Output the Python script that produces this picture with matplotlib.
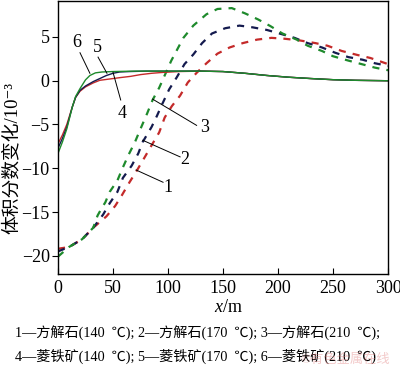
import matplotlib.pyplot as plt

plt.rcParams['font.family'] = ['Liberation Serif', 'Noto Sans CJK SC', 'DejaVu Serif']
plt.rcParams['mathtext.fontset'] = 'custom'
plt.rcParams['mathtext.rm'] = 'Liberation Serif'
plt.rcParams['mathtext.it'] = 'Liberation Serif:italic'

# dashed curves (calcite)
x1 = [0, 10, 22, 32, 44, 52, 58, 65, 72, 79, 85, 92, 97, 103.5, 111, 118, 126, 135, 145,
      156, 168, 181, 194, 206, 220, 234, 245, 258, 272, 284, 300]
y1 = [-19.2, -19.0, -18.1, -16.8, -15.5, -14.3, -13.1, -11.6, -10.2, -8.7, -7.4, -5.9, -4.2,
      -2.9, -1.7, -0.2, 0.9, 2.0, 3.1, 3.8, 4.3, 4.7, 4.9, 4.8, 4.6, 4.3, 4.0, 3.4, 2.95, 2.6, 1.9]

x2 = [0, 10, 22, 32, 41, 47, 54, 59, 67, 73, 77, 85, 90, 95, 101, 108, 115, 123, 131, 140,
      152, 165, 177, 190, 204, 215, 227, 240, 252, 264, 277, 288, 300]
y2 = [-19.5, -19.0, -18.1, -16.8, -15.3, -14.0, -12.7, -11.1, -9.7, -8.3, -7.0, -5.3, -4.0,
      -2.6, -1.0, 0.4, 1.9, 3.0, 4.3, 5.4, 6.0, 6.3, 6.1, 5.8, 5.3, 4.9, 4.3, 3.8, 3.2, 2.7,
      2.4, 2.0, 1.7]

x3 = [0, 10, 22, 32, 36, 40, 43, 47, 54, 59, 64, 70, 75, 81, 86, 92, 103, 114, 123, 135,
      145, 158, 170, 182, 193, 204, 217, 227, 240, 250, 264, 276, 288, 300]
y3 = [-20.1, -19.0, -18.1, -16.8, -15.4, -14.5, -13.9, -12.7, -11.4, -9.9, -8.5, -7.0, -5.5,
      -3.75, -2.2, -0.8, 2.3, 4.9, 6.3, 7.6, 8.2, 8.3, 7.7, 7.0, 6.25, 5.4, 4.7, 4.0, 3.4,
      2.8, 2.3, 1.9, 1.5, 1.2]

# solid curves (siderite)
x4 = [0, 4, 8, 13, 16, 20, 25, 32, 38, 47, 56, 66, 75, 85, 95, 110, 130, 150, 170, 190,
      210, 230, 250, 270, 300]
y4 = [-7.2, -6.2, -5.0, -3.0, -1.9, -1.2, -0.7, -0.25, 0.05, 0.2, 0.35, 0.5, 0.7, 0.85,
      0.95, 1.05, 1.1, 1.05, 0.85, 0.6, 0.4, 0.25, 0.12, 0.05, 0.0]

x5 = [0, 4, 8, 13, 16, 20, 25, 32, 38, 44, 50, 56, 65, 80, 110, 130, 150, 170, 190, 210,
      230, 250, 270, 300]
y5 = [-7.7, -6.6, -5.3, -3.0, -1.9, -1.1, -0.6, -0.1, 0.25, 0.6, 0.85, 1.0, 1.05, 1.1,
      1.1, 1.1, 1.05, 0.85, 0.6, 0.4, 0.25, 0.12, 0.05, 0.0]

x6 = [0, 4, 8, 13, 16, 20, 25, 29, 34, 40, 50, 70, 110, 130, 150, 170, 190, 210, 230, 250,
      270, 300]
y6 = [-8.3, -7.0, -5.5, -3.0, -1.8, -0.9, 0.1, 0.6, 0.9, 1.0, 1.05, 1.1, 1.1, 1.1, 1.05,
      0.85, 0.6, 0.4, 0.25, 0.12, 0.05, 0.0]

red = '#c42a2a'
navy = '#141a4e'
green = '#1e8a2c'

fig = plt.figure(figsize=(4, 3.67), dpi=100)
ax = fig.add_axes([0.145, 0.253, 0.825, 0.744])

dash = (0, (3.2, 3.2))
ax.plot(x1, y1, color=red, lw=1.6, ls=dash)
ax.plot(x2, y2, color=navy, lw=1.6, ls=dash)
ax.plot(x3, y3, color=green, lw=1.6, ls=dash)
ax.plot(x4, y4, color=red, lw=1.0)
ax.plot(x5, y5, color=navy, lw=1.0)
ax.plot(x6, y6, color=green, lw=1.0)

# curve numbers with leader lines
labels = [("1", (71, -10.2), (95.5, -11.6), (100, -12.2)),
          ("2", (77, -6.8), (111, -8.7), (115.5, -9.0)),
          ("3", (86, -2.1), (126, -5.1), (133, -5.3)),
          ("4", (50, 0.97), (57, -2.2), (58, -3.7)),
          ("5", (44.5, 0.85), (36.4, 2.7), (35.5, 3.8)),
          ("6", (29, 0.85), (20, 3.2), (17.3, 4.4))]
for t, a, b, q in labels:
    ax.plot([a[0], b[0]], [a[1], b[1]], color='black', lw=0.7)
    ax.text(q[0], q[1], t, fontsize=13, ha='center', va='center')

ax.set_xlim(0, 300)
ax.set_ylim(-22.1, 9.1)
ax.set_xticks([0, 50, 100, 150, 200, 250, 300])
ax.set_yticks([-20, -15, -10, -5, 0, 5])
ax.tick_params(axis='x', direction='in', labelsize=13, length=4, pad=4)
ax.tick_params(axis='y', direction='out', labelsize=13, length=4, pad=2)
for s in ax.spines.values():
    s.set_linewidth(1.0)

fig.text(0.03, 0.57, '体积分数变化/10⁻³', fontsize=13.5, rotation=90,
         ha='center', va='center')
fig.text(0.57, 0.163, '$x$/m', fontsize=13, ha='center', va='center')
fig.text(0.038, 0.095, '1—方解石(140  ℃); 2—方解石(170  ℃); 3—方解石(210  ℃);',
         fontsize=10.2, ha='left', va='center')
fig.text(0.038, 0.03, '4—菱铁矿(140  ℃); 5—菱铁矿(170  ℃); 6—菱铁矿(210  ℃)',
         fontsize=10.2, ha='left', va='center')
fig.text(0.975, 0.004, '©有色金属在线', fontsize=9.5, color='#e07a7a', alpha=0.4,
         ha='right', va='bottom')

fig.savefig('out.png', dpi=100)
